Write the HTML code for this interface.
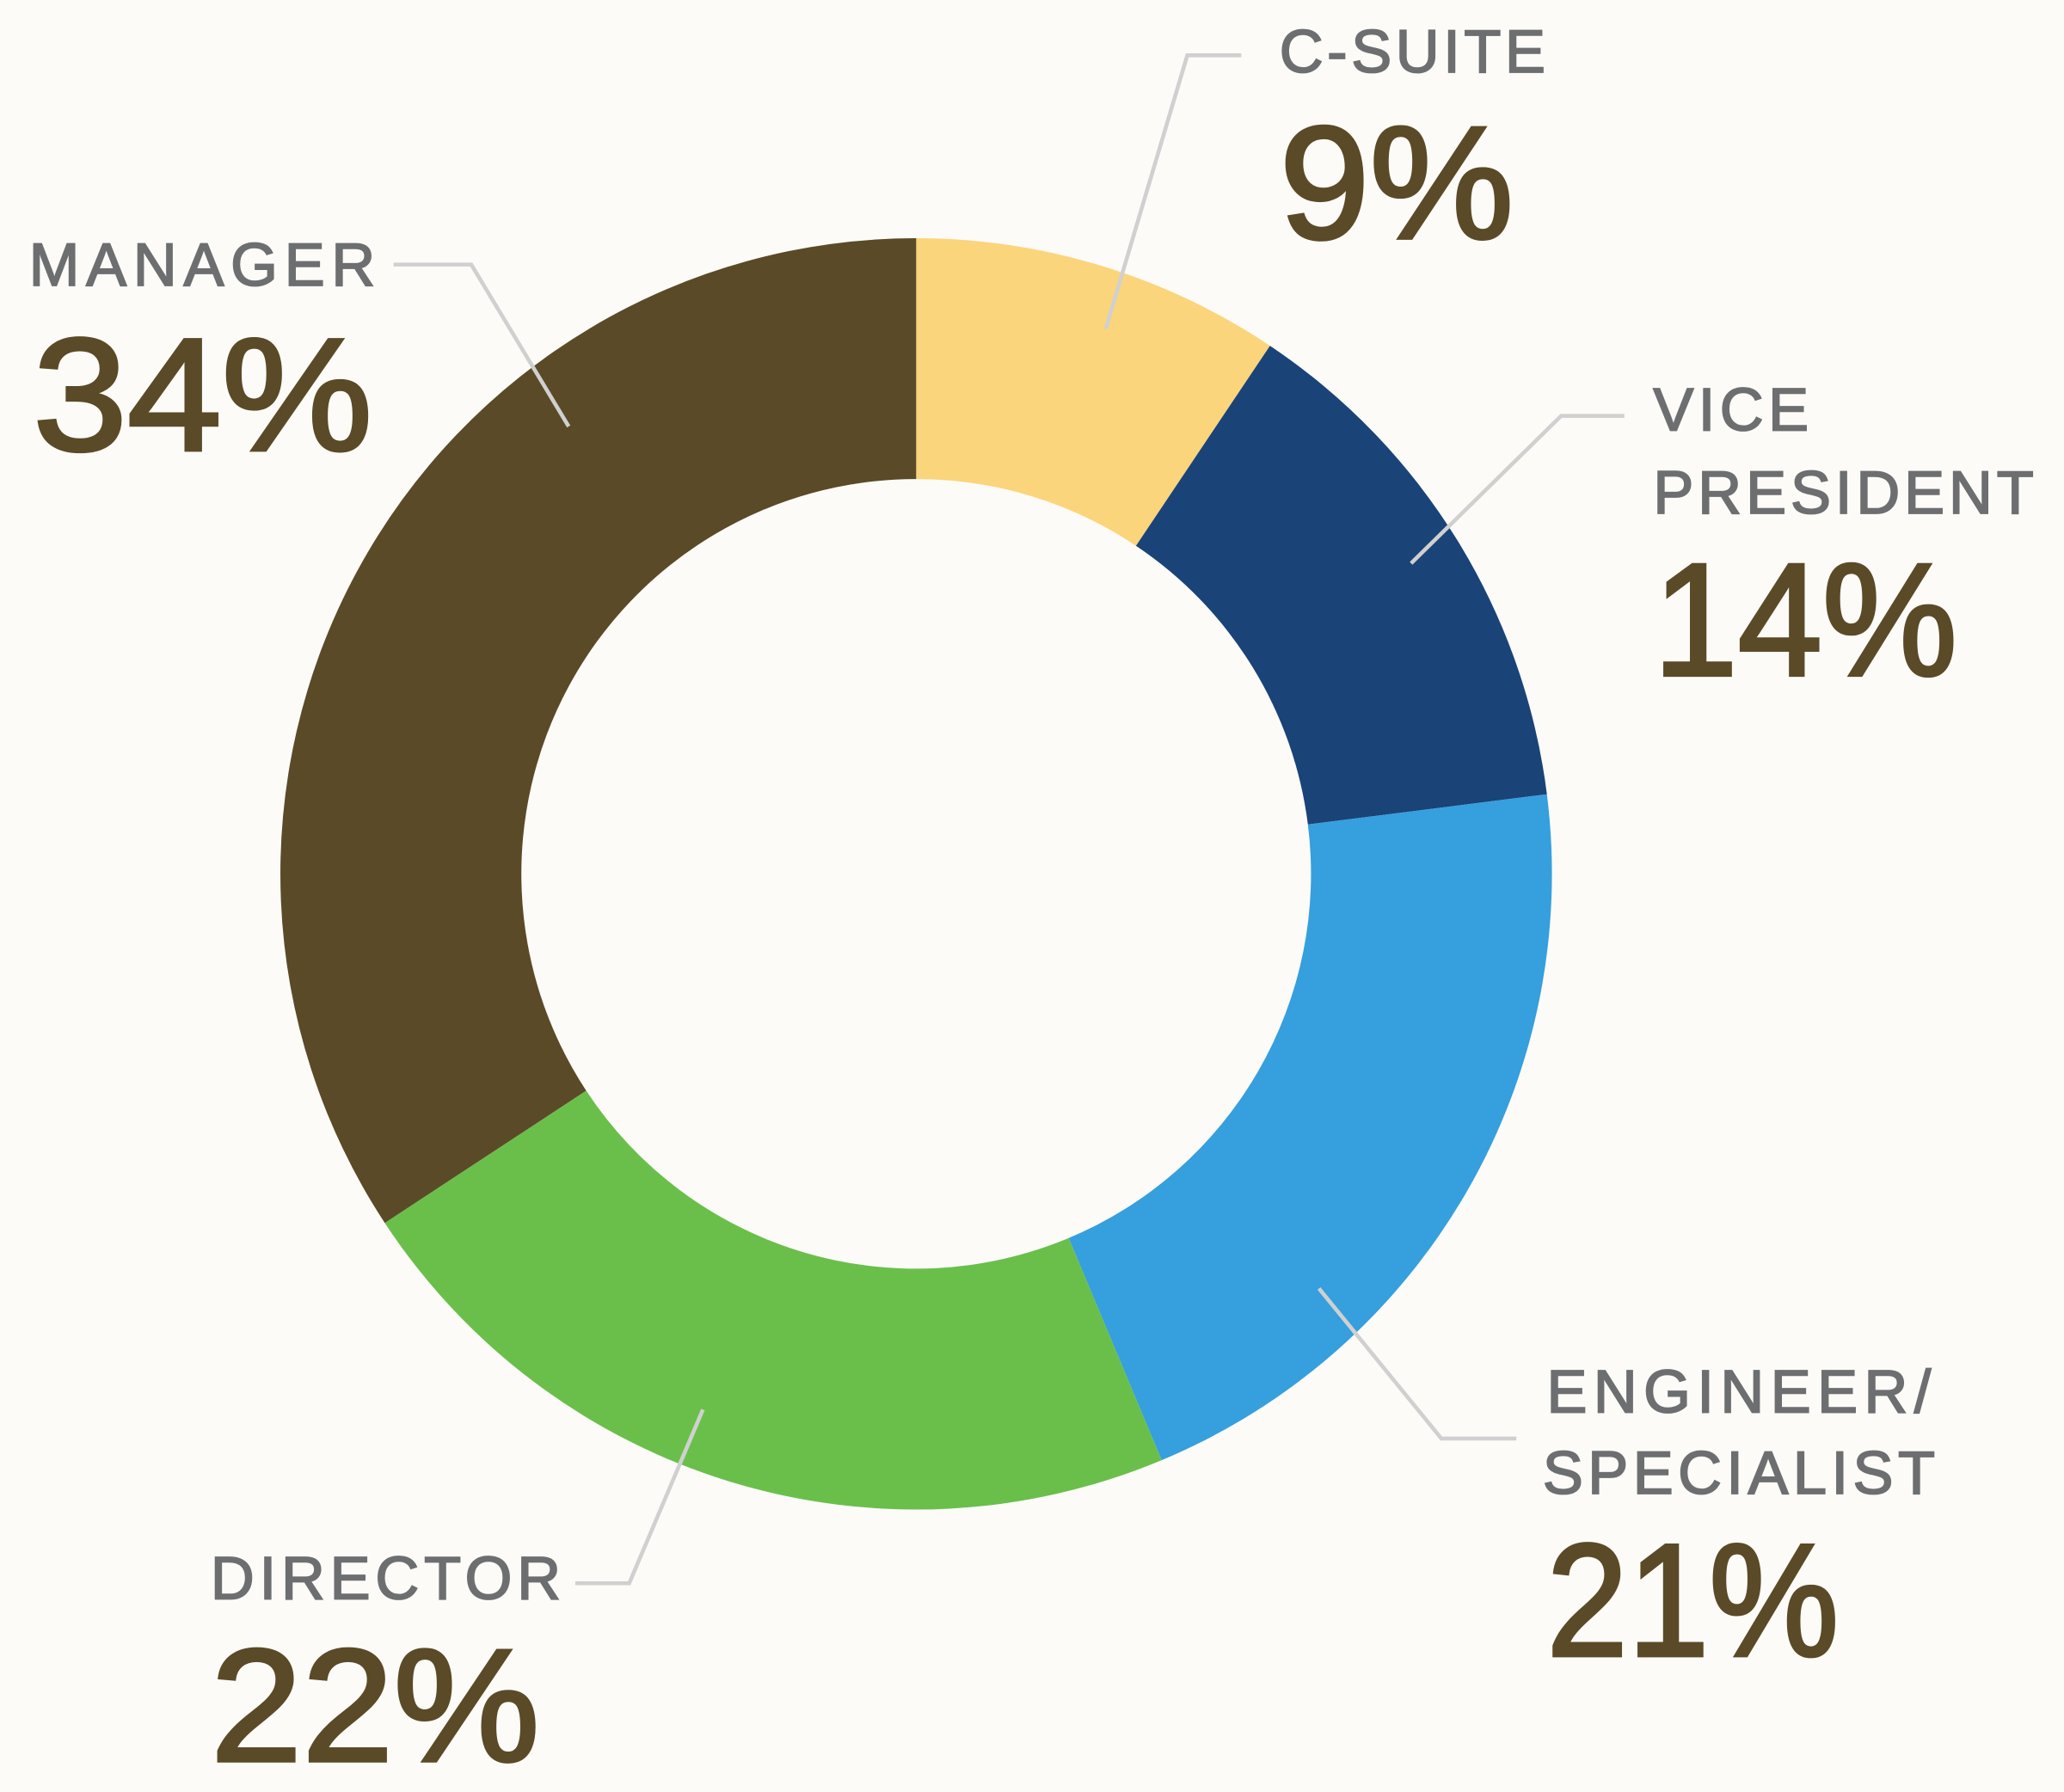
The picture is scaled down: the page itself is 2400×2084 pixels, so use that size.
<!DOCTYPE html>
<html><head><meta charset="utf-8"><style>
html,body{margin:0;padding:0;background:#fcfbf8;}
svg{display:block;}
.l{font-family:"Liberation Sans",sans-serif;fill:#6d6e70;stroke:#6d6e70;stroke-width:1.2;font-size:46px;}
.n{font-family:"Liberation Sans",sans-serif;fill:#5a4a27;stroke:#5a4a27;stroke-width:2.5;font-size:122px;}
</style></head><body>
<svg width="2400" height="2084" viewBox="0 0 1568 1361.6" xmlns="http://www.w3.org/2000/svg">
<rect width="1568" height="1362" fill="#fcfbf8"/>
<g transform="translate(696,664)">
<path d="M0,-483 A483,483 0 0 1 268.8,-401.3 L167,-249.3 A300,300 0 0 0 0,-300 Z" fill="#fbd57b"/>
<path d="M268.8,-401.3 A483,483 0 0 1 479.2,-60.5 L297.6,-37.6 A300,300 0 0 0 167,-249.3 Z" fill="#1a4378"/>
<path d="M479.2,-60.5 A483,483 0 0 1 186.5,445.5 L115.9,276.7 A300,300 0 0 0 297.6,-37.6 Z" fill="#369fdd"/>
<path d="M186.5,445.5 A483,483 0 0 1 -403.7,265.2 L-250.7,164.7 A300,300 0 0 0 115.9,276.7 Z" fill="#6abf4b"/>
<path d="M-403.7,265.2 A483,483 0 0 1 0,-483 L0,-300 A300,300 0 0 0 -250.7,164.7 Z" fill="#5a4a27"/>
</g>
<g fill="none" stroke="#d0d0d0" stroke-width="3">
<polyline points="943,42 902,42 840,250"/>
<polyline points="1234,316 1186,316 1072,428"/>
<polyline points="1152,1093 1095,1093 1002,979"/>
<polyline points="437,1203 478,1203 534,1071"/>
<polyline points="299,201 358,201 432,324"/>
</g>
<text class="l" x="22" y="217" textLength="263" lengthAdjust="spacing">MANAGER</text>
<text class="n" x="25" y="342" textLength="258" lengthAdjust="spacingAndGlyphs">34%</text>
<text class="l" x="972" y="55" textLength="202" lengthAdjust="spacing">C-SUITE</text>
<text class="n" x="972" y="181" textLength="178" lengthAdjust="spacingAndGlyphs">9%</text>
<text class="l" x="1256" y="327" textLength="118" lengthAdjust="spacing">VICE</text>
<text class="l" x="1256" y="390" textLength="289" lengthAdjust="spacing">PRESIDENT</text>
<text class="n" x="1256" y="513" textLength="231" lengthAdjust="spacingAndGlyphs">14%</text>
<text class="l" x="1175" y="1073" textLength="292" lengthAdjust="spacing">ENGINEER/</text>
<text class="l" x="1172" y="1135" textLength="298" lengthAdjust="spacing">SPECIALIST</text>
<text class="n" x="1175" y="1258" textLength="222" lengthAdjust="spacingAndGlyphs">21%</text>
<text class="l" x="160" y="1215" textLength="266" lengthAdjust="spacing">DIRECTOR</text>
<text class="n" x="160" y="1338" textLength="250" lengthAdjust="spacingAndGlyphs">22%</text>
</svg>
</body></html>
